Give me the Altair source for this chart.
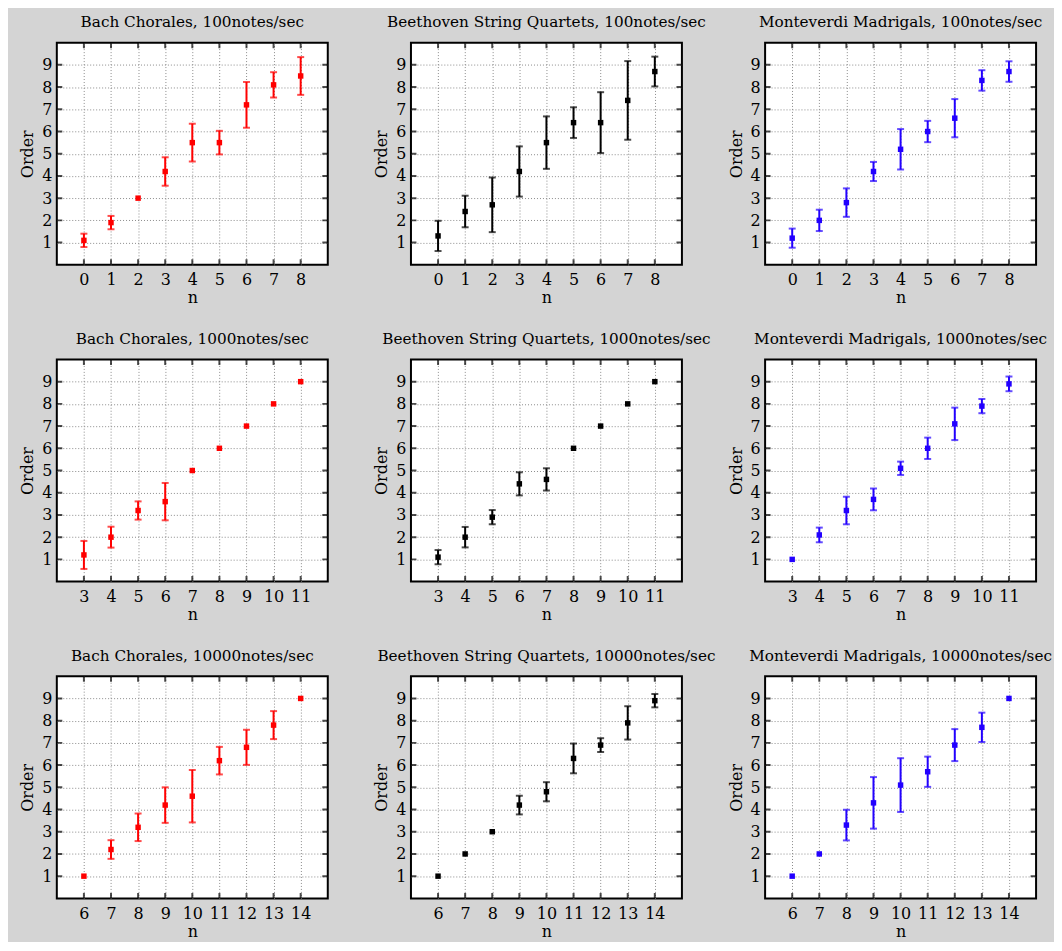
import altair as alt
import pandas as pd

FONT = "DejaVu Serif"

composers = ["Bach Chorales", "Beethoven String Quartets", "Monteverdi Madrigals"]
rates = ["100notes/sec", "1000notes/sec", "10000notes/sec"]
colors = ["#ff0000", "#000000", "#2200ff"]

y_ticks = [1, 2, 3, 4, 5, 6, 7, 8, 9]

n_100 = [0, 1, 2, 3, 4, 5, 6, 7, 8]
n_1000 = [3, 4, 5, 6, 7, 8, 9, 10, 11]
n_10000 = [6, 7, 8, 9, 10, 11, 12, 13, 14]

bach_100_order = [1.1, 1.9, 3.0, 4.2, 5.5, 5.5, 7.2, 8.1, 8.5]
bach_100_err = [0.3, 0.3, 0.0, 0.64, 0.85, 0.53, 1.03, 0.57, 0.85]
beet_100_order = [1.3, 2.4, 2.7, 4.2, 5.5, 6.4, 6.4, 7.4, 8.7]
beet_100_err = [0.68, 0.71, 1.23, 1.13, 1.18, 0.69, 1.37, 1.77, 0.67]
mont_100_order = [1.2, 2.0, 2.8, 4.2, 5.2, 6.0, 6.6, 8.3, 8.7]
mont_100_err = [0.43, 0.48, 0.64, 0.43, 0.91, 0.48, 0.86, 0.46, 0.46]

bach_1000_order = [1.2, 2.0, 3.2, 3.6, 5.0, 6.0, 7.0, 8.0, 9.0]
bach_1000_err = [0.63, 0.47, 0.41, 0.84, 0.0, 0.0, 0.0, 0.0, 0.0]
beet_1000_order = [1.1, 2.0, 2.9, 4.4, 4.6, 6.0, 7.0, 8.0, 9.0]
beet_1000_err = [0.32, 0.46, 0.32, 0.52, 0.5, 0.0, 0.0, 0.0, 0.0]
mont_1000_order = [1.0, 2.1, 3.2, 3.7, 5.1, 6.0, 7.1, 7.9, 8.9]
mont_1000_err = [0.0, 0.33, 0.62, 0.49, 0.3, 0.48, 0.73, 0.32, 0.33]

bach_10000_order = [1.0, 2.2, 3.2, 4.2, 4.6, 6.2, 6.8, 7.8, 9.0]
bach_10000_err = [0.0, 0.42, 0.62, 0.8, 1.18, 0.62, 0.79, 0.63, 0.0]
beet_10000_order = [1.0, 2.0, 3.0, 4.2, 4.8, 6.3, 6.9, 7.9, 8.9]
beet_10000_err = [0.0, 0.0, 0.0, 0.42, 0.43, 0.67, 0.31, 0.75, 0.3]
mont_10000_order = [1.0, 2.0, 3.3, 4.3, 5.1, 5.7, 6.9, 7.7, 9.0]
mont_10000_err = [0.0, 0.0, 0.69, 1.16, 1.21, 0.68, 0.72, 0.66, 0.0]

rows = [
    (n_100, [-1, 9], [(bach_100_order, bach_100_err), (beet_100_order, beet_100_err), (mont_100_order, mont_100_err)]),
    (n_1000, [2, 12], [(bach_1000_order, bach_1000_err), (beet_1000_order, beet_1000_err), (mont_1000_order, mont_1000_err)]),
    (n_10000, [5, 15], [(bach_10000_order, bach_10000_err), (beet_10000_order, beet_10000_err), (mont_10000_order, mont_10000_err)]),
]

W, H = 272, 223


def panel(n, xdom, order, err, title, color):
    df = pd.DataFrame({"n": n, "order": order, "err": err})
    df["lo"] = df["order"] - df["err"]
    df["hi"] = df["order"] + df["err"]
    xs = alt.Scale(domain=xdom, nice=False, zero=False)
    ys = alt.Scale(domain=[0, 10], nice=False, zero=False)
    xax = alt.Axis(values=n, tickCount=30, format="d", title="n",
                   labelOverlap=False, labelFlush=False)
    yax = alt.Axis(values=y_ticks, tickCount=30, format="d", title="Order",
                   labelOverlap=False, labelFlush=False)

    def X(f):
        return alt.X(f, scale=xs, axis=xax)

    def Y(f):
        return alt.Y(f, scale=ys, axis=yax)

    base = alt.Chart(df)
    pts = base.mark_square(size=30, color=color, opacity=1).encode(
        x=X("n:Q"), y=Y("order:Q"))
    eb = base.transform_filter("datum.err > 0")
    bars = eb.mark_rule(color=color, strokeWidth=2).encode(
        x=X("n:Q"), y=Y("lo:Q"), y2="hi:Q")
    cap_lo = eb.mark_tick(orient="horizontal", size=7, thickness=2, color=color).encode(
        x=X("n:Q"), y=Y("lo:Q"))
    cap_hi = eb.mark_tick(orient="horizontal", size=7, thickness=2, color=color).encode(
        x=X("n:Q"), y=Y("hi:Q"))
    ydf = pd.DataFrame({"v": y_ticks})
    xdf = pd.DataFrame({"v": n})
    tk = dict(size=11, thickness=2, color="black", clip=True)
    left = alt.Chart(ydf).mark_tick(orient="horizontal", **tk).encode(
        x=alt.datum(xdom[0]), y=Y("v:Q"))
    right = alt.Chart(ydf).mark_tick(orient="horizontal", **tk).encode(
        x=alt.datum(xdom[1]), y=Y("v:Q"))
    bottom = alt.Chart(xdf).mark_tick(orient="vertical", **tk).encode(
        x=X("v:Q"), y=alt.datum(0))
    top = alt.Chart(xdf).mark_tick(orient="vertical", **tk).encode(
        x=X("v:Q"), y=alt.datum(10))
    return alt.layer(pts, bars, cap_lo, cap_hi, left, right, bottom, top).properties(
        width=W, height=H, title=alt.TitleParams(title)
    )


panels = []
for (n, xdom, series), rate in zip(rows, rates):
    for (order, err), comp, col in zip(series, composers, colors):
        panels.append(panel(n, xdom, order, err, f"{comp}, {rate}", col))

chart = alt.concat(
    *panels, columns=3, spacing={"row": 95, "column": 83.5}, bounds="flush"
).configure(
    background="#d4d4d4",
    padding={"left": 10, "top": 4, "right": 0, "bottom": 0},
).configure_view(
    stroke="black", strokeWidth=2, fill="white"
).configure_axis(
    labelFont=FONT, labelFontSize=16, labelColor="black",
    titleFont=FONT, titleFontSize=16, titleFontWeight="normal", titleColor="black",
    domain=False, ticks=False, labelPadding=5, titlePadding=6,
    labelOverlap=False, labelFlush=False, labelBound=False,
    grid=True, gridColor="#8c8c8c", gridDash=[1, 2], gridWidth=1, gridOpacity=1,
).configure_axisX(
    labelPadding=7, titlePadding=2
).configure_title(
    font=FONT, fontSize=15.3, fontWeight="normal", color="black", offset=12
)

chart.save("out.html", embed_options={"renderer": "svg", "actions": False})
